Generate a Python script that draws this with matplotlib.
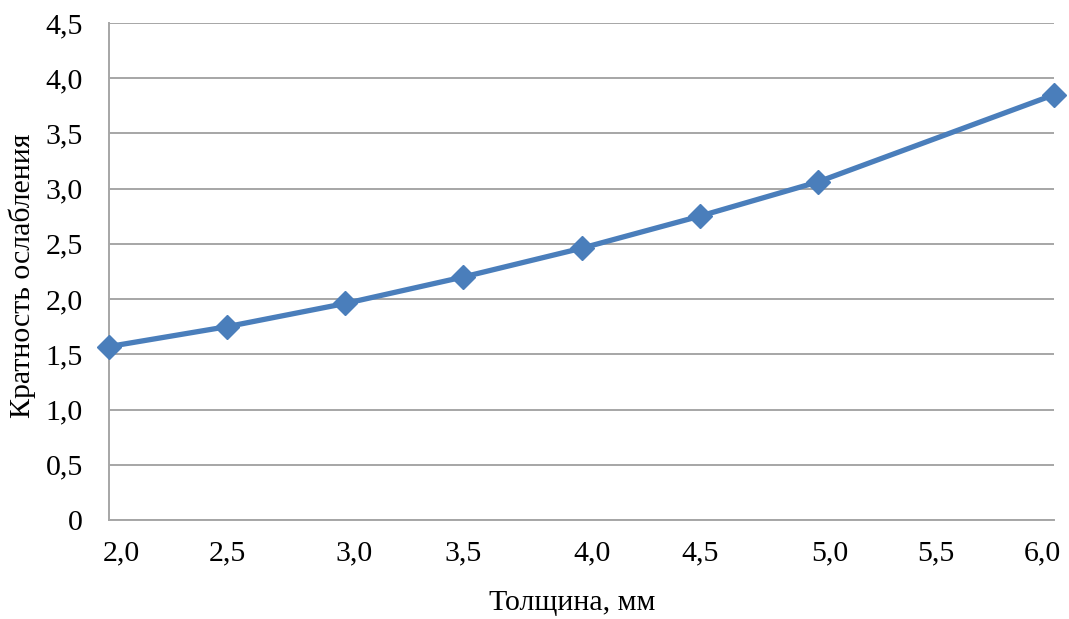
import matplotlib
matplotlib.use("Agg")
import matplotlib.pyplot as plt
import matplotlib.transforms as mtransforms

# данные
tolshchina = [2.0, 2.5, 3.0, 3.5, 4.0, 4.5, 5.0, 6.0]
kratnost = [1.57, 1.75, 1.96, 2.20, 2.46, 2.75, 3.06, 3.85]

x_ticks = [2.0, 2.5, 3.0, 3.5, 4.0, 4.5, 5.0, 5.5, 6.0]
x_labels = ["2,0", "2,5", "3,0", "3,5", "4,0", "4,5", "5,0", "5,5", "6,0"]
y_ticks = [0, 0.5, 1.0, 1.5, 2.0, 2.5, 3.0, 3.5, 4.0, 4.5]
y_labels = ["0", "0,5", "1,0", "1,5", "2,0", "2,5", "3,0", "3,5", "4,0", "4,5"]

plt.rcParams['font.family'] = ['Liberation Serif', 'DejaVu Serif']
fs = 21.5

fig = plt.figure(figsize=(10.69, 6.19), dpi=100)
ax = fig.add_axes([0.102, 0.160, 0.884, 0.803])

ax.plot(tolshchina, kratnost, color='#4A7EBB', linewidth=3.8,
        marker='D', markersize=12.5, clip_on=False, zorder=3)

ax.set_xlim(2.0, 6.0)
ax.set_ylim(0, 4.5)
ax.set_xticks(x_ticks)
ax.set_xticklabels(x_labels, fontsize=fs)
ax.set_yticks(y_ticks)
ax.set_yticklabels(y_labels, fontsize=fs)
ax.tick_params(axis='both', length=0, colors='#000000')
ax.tick_params(axis='x', pad=15)
ax.tick_params(axis='y', pad=19)

# подписи по оси x сдвинуты как в оригинале
sdvig_px = [12, 0, 9, 0, 11, 0, 12, 0, -12]
for lbl, dx in zip(ax.get_xticklabels(), sdvig_px):
    lbl.set_transform(lbl.get_transform() +
                      mtransforms.ScaledTranslation(dx / 100, 0, fig.dpi_scale_trans))

ax.grid(axis='y', color='#A6A6A6', linewidth=1.4)
ax.set_axisbelow(True)
for side in ['top', 'right']:
    ax.spines[side].set_visible(False)
for side in ['left', 'bottom']:
    ax.spines[side].set_color('#A6A6A6')
    ax.spines[side].set_linewidth(1.4)

ax.set_xlabel('Толщина, мм', fontsize=fs, va='center')
ax.xaxis.set_label_coords(0.49, -0.167)
ax.set_ylabel('Кратность ослабления', fontsize=fs, va='center')
ax.yaxis.set_label_coords(-0.092, 0.491)

fig.savefig('out.png', dpi=100, facecolor='white')
